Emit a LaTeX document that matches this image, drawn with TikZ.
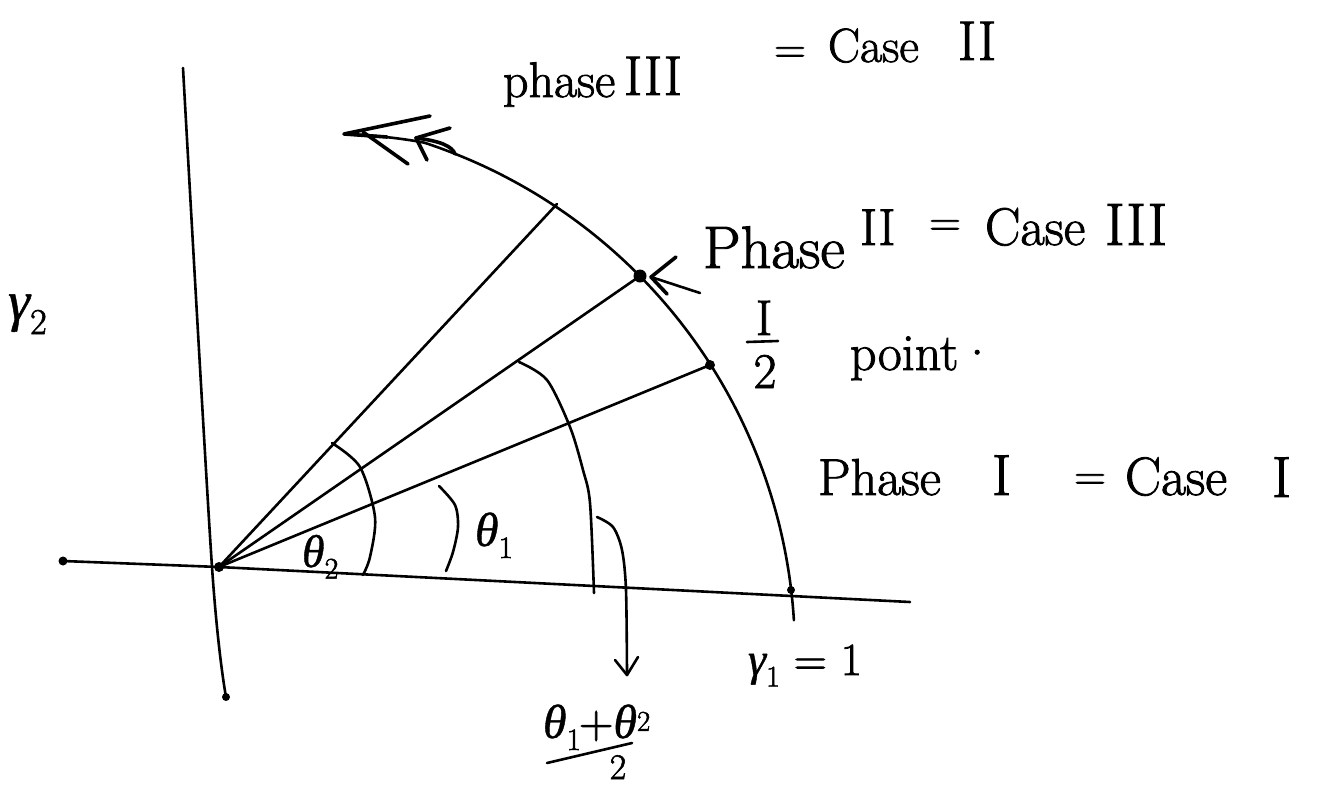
\documentclass[tikz,border=0pt]{standalone}
\usepackage{graphicx}
\usepackage{fontspec}
\setmainfont{Latin Modern Roman}[RawFeature={embolden=1.6}]
\newfontfamily\gk{Liberation Serif}[RawFeature={embolden=0.8}]
\newcommand{\fsz}[1]{\fontsize{#1}{#1}\selectfont}
\newcommand{\sbs}[1]{\raisebox{-0.25em}{\scalebox{0.65}{#1}}}
\newcommand{\sps}[1]{\raisebox{0.15em}{\scalebox{0.6}{#1}}}
\newcommand{\gth}{{\gk\itshape θ}}
\newcommand{\ggm}{{\gk\itshape γ}}
\tikzset{
  ink/.style={line width=2.6pt, line cap=round, line join=round},
  thick ink/.style={line width=3.6pt, line cap=round, line join=round},
  hw/.style={inner sep=0pt, outer sep=0pt},
}
\begin{document}
\begin{tikzpicture}[x=1pt,y=-1pt]
\useasboundingbox (0,0) rectangle (1319,785);
% key points
\coordinate (O) at (219,567);
\coordinate (xl) at (63,561);
\coordinate (xr) at (910,602);
\coordinate (yt) at (183,68);
\coordinate (ym) at (212,567);
\coordinate (yb) at (226,697);
\coordinate (R) at (791,590);
\coordinate (P1) at (710,365);
\coordinate (P2) at (640,276);
\coordinate (P3) at (557,204);
\coordinate (tip) at (344,134);
% axes
\draw[ink] (xl) -- (O) -- (xr);
\draw[ink] plot[smooth] coordinates {(yt) (ym) (yb)};
% big arc (centre 257,654; radius 538)
\draw[ink] plot[domain=-3.6:-80.5, samples=90, smooth]
  ({257+(538-1.3*max(0,-72-\x))*cos(\x)}, {654+(538-1.3*max(0,-72-\x))*sin(\x)});
% arrowhead at top
\draw[thick ink] (430,116) -- (tip) -- (387,137);
\draw[thick ink] (363,132) -- (408,164);
\draw[thick ink] (450,128) -- (416,138) -- (427,160);
\draw[thick ink] (416,138) .. controls (440,141) and (452,146) .. (455,154);
% rays
\draw[ink] (O) -- (P3);
\draw[ink] (O) -- (P2);
\draw[ink] (O) -- (P1);
% dots
\fill (P2) circle (6.5);
\fill (P1) circle (5);
\fill (O) circle (5);
\fill (xl) circle (4.5);
\fill (yb) circle (4);
\fill (R) circle (4);
% angle arcs
\draw[ink] plot[smooth] coordinates {(332,443) (360,467) (375,517) (370,557) (363,575)};
\draw[ink] plot[smooth] coordinates {(439,486) (455,505) (458,527) (453,552) (446,571)};
\draw[ink] plot[smooth] coordinates {(519,362) (547,380) (570,427) (583,470) (590,503) (594,593)};
% pointer arrow to average
\coordinate (avgtip) at (627,675);
\draw[ink] plot[smooth] coordinates {(597,517) (613,527) (622,550) (626,590) (avgtip)};
\draw[ink] (615,660) -- (avgtip) -- (638,657);
% phase II pointer
\coordinate (p2tip) at (651,277);
\draw[ink] (700,293) -- (p2tip);
\draw[thick ink] (676,257) -- (p2tip) -- (667,294);
% texts row 1
\node[hw, font=\fsz{50}, anchor=base west] (ph3) at (503,97) {phase};
\node[hw, font=\fsz{56}, anchor=base west] (n3a) at (624,95) {III};
\node[hw, font=\fsz{44}] (eq1) at (790,55) {=};
\node[hw, font=\fsz{48}, anchor=base west] (case2) at (828,62) {Case};
\node[hw, font=\fsz{56}, anchor=base west] (n2a) at (958,60) {II};
% row 2
\node[hw, font=\fsz{60}, anchor=base west] (ph2) at (703,268) {Phase};
\node[hw, font=\fsz{52}, anchor=base west] (n2b) at (860,245) {II};
\node[hw, font=\fsz{44}] (eq2) at (945,228) {=};
\node[hw, font=\fsz{53}, anchor=base west] (case3) at (985,245) {Case};
\node[hw, font=\fsz{60}, anchor=base west] (n3b) at (1105,245) {III};
% row 3: I/2 point
\node[hw, font=\fsz{50}, anchor=base] (hnum) at (764,335) {I};
\node[hw, font=\fsz{50}, anchor=base] (hden) at (765,388) {2};
\draw[ink] (747,342) -- (778,341);
\node[hw, font=\fsz{52}, anchor=base west] (pt) at (850,370) {point·};
% row 4
\node[hw, font=\fsz{52}, anchor=base west] (ph1) at (818,495) {Phase};
\node[hw, font=\fsz{58}, anchor=base west] (n1a) at (992,495) {I};
\node[hw, font=\fsz{44}] (eq3) at (1090,482) {=};
\node[hw, font=\fsz{54}, anchor=base west] (case1) at (1125,495) {Case};
\node[hw, font=\fsz{58}, anchor=base west] (n1b) at (1272,497) {I};
% labels
\node[hw, font=\fsz{56}, anchor=base west] (g2) at (8,320) {\ggm\sbs{2}};
\node[hw, font=\fsz{46}, anchor=base west] (t2) at (302,567) {\gth\sbs{2}};
\node[hw, font=\fsz{48}, anchor=base west] (t1) at (475,546) {\gth\sbs{1}};
\node[hw, font=\fsz{46}, anchor=base west] (g1) at (748,675) {\ggm\sbs{1} = 1};
\node[hw, font=\fsz{48}, anchor=base west] (anum) at (543,738) {\gth\sbs{1}\kern-2pt+\gth\sps{2}};
\draw[ink] (547,763) -- (632,743);
\node[hw, font=\fsz{36}, anchor=base] (aden) at (618,779) {2};
\end{tikzpicture}
\end{document}
